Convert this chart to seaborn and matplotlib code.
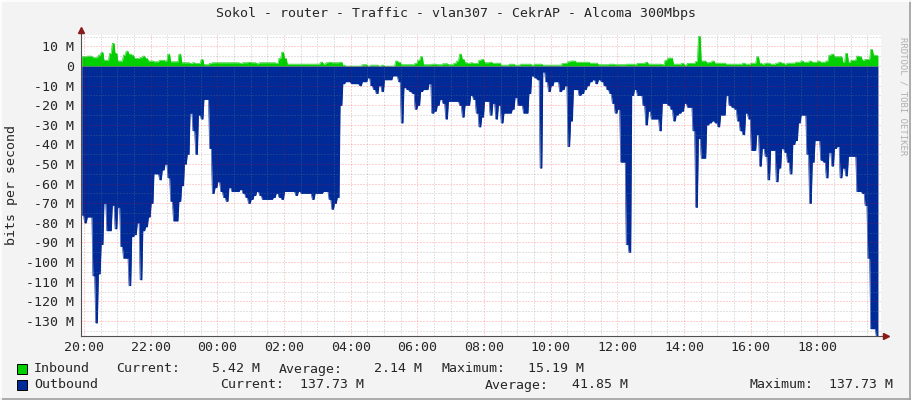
import matplotlib
matplotlib.use("Agg")
import matplotlib.pyplot as plt
import matplotlib.ticker as mticker
from matplotlib.patches import Rectangle
from matplotlib.lines import Line2D
import numpy as np
import pandas as pd
import seaborn as sns

sns.set_style("white")
plt.rcParams["font.family"] = ["DejaVu Sans Mono", "DejaVu Sans"]
plt.rcParams["font.size"] = 9.5

W, H = 911, 400

title = "Sokol - router - Traffic - vlan307 - CekrAP - Alcoma 300Mbps"
first_sample = -1 / 12   # hours after 20:00 -> 19:55
step = 1 / 12            # 5 minute rrd steps

# Mbit/s, one value per 5 minutes, rows start at 19:55, 20:55, ...
inbound = [
    4.8, 4.8, 5.1, 5.1, 4.3, 4.3, 5.6, 7.0, 3.0, 3.0, 6.5, 11.6,
    6.5, 2.6, 2.6, 5.6, 7.6, 6.1, 5.6, 3.9, 3.9, 4.3, 5.1, 3.9,
    2.6, 2.6, 2.2, 2.2, 3.0, 3.0, 2.6, 6.1, 2.2, 2.2, 2.2, 6.1,
    1.7, 1.7, 1.7, 1.4, 1.7, 1.4, 1.4, 3.4, 0.7, 0.7, 1.4, 1.7,
    1.7, 1.7, 1.7, 1.7, 1.7, 1.7, 1.7, 1.7, 1.7, 1.4, 1.7, 1.7,
    2.0, 1.7, 1.7, 1.2, 1.7, 1.7, 1.7, 1.7, 1.7, 1.7, 1.4, 3.9,
    7.1, 3.9, 1.0, 1.0, 1.0, 1.0, 1.0, 1.0, 1.0, 1.0, 1.0, 1.0,
    1.0, 1.0, 2.0, 1.0, 1.7, 2.0, 1.7, 1.7, 1.7, 2.0, 0.5, 0.0,
    0.0, 0.0, 0.0, 0.0, 0.0, 0.7, 0.7, 0.0, 0.5, 0.5, 0.5, 0.0,
    0.5, 0.0, 0.0, 0.0, 0.0, 2.6, 2.0, 0.7, 0.7, 0.7, 0.7, 0.7,
    1.4, 3.0, 4.8, 0.7, 0.7, 0.7, 1.0, 1.0, 0.7, 0.7, 1.2, 1.2,
    0.7, 0.7, 1.4, 2.6, 6.1, 3.4, 1.7, 1.4, 1.7, 1.4, 1.4, 3.0,
    3.4, 1.7, 1.7, 2.0, 1.4, 1.5, 1.5, 0.5, 0.5, 0.5, 1.0, 1.0,
    0.5, 0.5, 1.0, 1.0, 1.0, 1.0, 0.5, 1.0, 1.0, 1.0, 0.5, 0.5,
    0.5, 0.5, 0.5, 0.5, 0.5, 1.4, 1.4, 2.2, 2.6, 2.6, 2.0, 2.0,
    2.0, 2.0, 2.0, 1.5, 1.5, 1.5, 0.7, 0.7, 0.7, 0.7, 1.0, 1.0,
    0.7, 0.7, 0.7, 0.7, 1.0, 1.0, 1.0, 0.7, 1.4, 1.4, 1.4, 2.0,
    1.0, 1.0, 1.0, 1.0, 1.0, 0.7, 3.0, 4.1, 4.1, 1.0, 1.0, 1.0,
    1.4, 0.5, 1.4, 1.4, 1.4, 2.4, 15.19, 2.6, 2.6, 1.7, 2.0, 2.6,
    1.5, 1.5, 1.5, 1.5, 1.0, 1.0, 1.0, 1.0, 1.0, 1.0, 1.5, 1.0,
    1.0, 1.5, 1.5, 4.8, 1.5, 1.0, 1.5, 1.5, 1.0, 1.0, 1.5, 2.0,
    1.5, 1.0, 1.5, 1.5, 1.5, 2.0, 2.0, 2.6, 2.0, 2.0, 2.6, 2.0,
    2.0, 2.6, 2.0, 2.0, 2.6, 5.6, 6.1, 4.8, 4.8, 4.8, 2.0, 6.5,
    2.0, 3.0, 3.0, 5.1, 4.8, 3.0, 3.4, 3.4, 8.5, 5.6, 5.42,
]

outbound = [
    76, 80, 77, 77, 107, 131, 106, 91, 70, 84, 84, 71,
    83, 72, 92, 98, 98, 112, 87, 86, 80, 109, 84, 82,
    77, 70, 55, 55, 58, 53, 50, 57, 69, 79, 79, 69,
    61, 50, 45, 24, 33, 45, 25, 27, 17, 17, 42, 65,
    62, 59, 64, 67, 69, 62, 64, 64, 64, 63, 65, 67,
    70, 68, 66, 64, 66, 68, 68, 68, 68, 67, 65, 67,
    68, 64, 64, 64, 64, 66, 64, 65, 65, 65, 65, 68,
    65, 65, 65, 64, 64, 68, 73, 70, 67, 20, 9, 8,
    8, 9, 9, 9, 10, 8, 8, 6, 10, 12, 14, 10,
    13, 7, 7, 7, 5, 5, 8, 29, 11, 12, 13, 14,
    22, 20, 13, 12, 12, 9, 24, 23, 20, 17, 19, 27,
    18, 18, 18, 18, 20, 26, 20, 20, 15, 17, 24, 31,
    26, 18, 18, 25, 19, 27, 20, 29, 24, 24, 24, 22,
    16, 20, 20, 24, 24, 14, 5, 6, 7, 52, 3, 8,
    13, 10, 8, 8, 13, 12, 10, 41, 28, 12, 12, 15,
    14, 12, 10, 8, 7, 9, 7, 8, 10, 12, 14, 19,
    24, 22, 49, 49, 91, 95, 15, 12, 15, 15, 20, 30,
    23, 27, 27, 27, 33, 19, 19, 20, 22, 28, 25, 24,
    23, 19, 21, 21, 33, 72, 37, 47, 47, 30, 29, 28,
    29, 31, 25, 25, 15, 20, 21, 22, 28, 33, 35, 24,
    27, 43, 43, 35, 51, 42, 46, 58, 43, 43, 59, 52,
    42, 44, 49, 55, 40, 38, 29, 25, 25, 45, 70, 49,
    38, 38, 48, 49, 57, 44, 51, 42, 41, 57, 52, 56,
    46, 46, 46, 64, 64, 65, 71, 98, 134, 134, 137.73,
]

hour_ticks = [0, 2, 4, 6, 8, 10, 12, 14, 16, 18, 20, 22]
hour_labels = ["20:00", "22:00", "00:00", "02:00", "04:00", "06:00",
               "08:00", "10:00", "12:00", "14:00", "16:00", "18:00"]
y_ticks = [10, 0, -10, -20, -30, -40, -50, -60, -70, -80, -90, -100, -110, -120, -130]
y_labels = ["10 M", "0", "-10 M", "-20 M", "-30 M", "-40 M", "-50 M", "-60 M",
            "-70 M", "-80 M", "-90 M", "-100 M", "-110 M", "-120 M", "-130 M"]

series_names = ["Inbound", "Outbound"]
stat_names = ["Current:", "Average:", "Maximum:"]
inbound_stats = [5.42, 2.14, 15.19]
outbound_stats = [137.73, 41.85, 137.73]

green = "#00cf00"
blue = "#002a97"

# each 5 min sample is drawn flat over its slot, with ~1px slanted joins like rrdtool
n = len(outbound)
slot_start = first_sample + step * np.arange(n)
edge = 0.5 / 33.33
df = pd.DataFrame({
    "t": np.column_stack([slot_start + edge, slot_start + step - edge]).ravel(),
    "inbound": np.repeat(inbound, 2),
    "outbound": -np.repeat(outbound, 2),
})


def fx(px):
    return px / W


def fy(py):
    return 1 - py / H


fig = plt.figure(figsize=(W / 100, H / 100), dpi=100, facecolor="#f3f3f3")
ax = fig.add_axes([fx(81), fy(336), 800 / W, (336 - 34.5) / H])
ax.set_facecolor("white")

ax.fill_between(df["t"], 0, df["inbound"], color=green, lw=0, zorder=1)
ax.fill_between(df["t"], 0, df["outbound"], color=blue, lw=0, zorder=1)
sns.lineplot(data=df, x="t", y="inbound", color=green, lw=0.4, ax=ax)
sns.lineplot(data=df, x="t", y="outbound", color=blue, lw=0.4, ax=ax)

ax.set_xlim(-0.09, 23.91)
ax.set_ylim(-137.7, 16.1)
ax.set_xlabel("")
ax.set_ylabel("")

ax.xaxis.set_major_locator(mticker.FixedLocator(hour_ticks))
ax.xaxis.set_minor_locator(mticker.MultipleLocator(0.5))
ax.set_xticklabels(hour_labels)
ax.yaxis.set_major_locator(mticker.FixedLocator(y_ticks))
ax.yaxis.set_minor_locator(mticker.MultipleLocator(5))
ax.set_yticklabels(y_labels)

ax.set_axisbelow(False)
ax.grid(True, which="major", color="#ff0000", alpha=0.35, ls=(0, (1, 2)), lw=0.72)
ax.grid(True, which="minor", color="#808080", alpha=0.45, ls=(0, (1, 2)), lw=0.72)

ax.tick_params(axis="y", which="major", length=2.2, width=0.7, color="#505050", pad=3.0, labelsize=9.5)
ax.tick_params(axis="y", which="minor", length=1.4, width=0.7, color="#505050")
ax.tick_params(axis="x", which="major", length=2.2, width=0.7, color="#505050", pad=1.5, labelsize=9.5)
ax.tick_params(axis="x", which="minor", length=1.4, width=0.7, color="#505050")

for side in ["top", "right"]:
    ax.spines[side].set_visible(False)
for side in ["left", "bottom"]:
    ax.spines[side].set_color("#505050")
    ax.spines[side].set_linewidth(0.8)

# axis arrows
ax.plot([0, 0], [1, 1.012], transform=ax.transAxes, color="#505050", lw=0.8, clip_on=False)
ax.plot([0], [1.014], marker="^", ms=4, color="#8b1a1a", transform=ax.transAxes, clip_on=False)
ax.plot([1, 1.004], [0, 0], transform=ax.transAxes, color="#505050", lw=0.8, clip_on=False)
ax.plot([1.006], [0], marker=">", ms=4, color="#8b1a1a", transform=ax.transAxes, clip_on=False)

fig.text(0.5, fy(14), title, ha="center", va="center", fontsize=9.5)
fig.text(fx(12), fy(185), "bits per second", rotation=90, ha="center", va="center", fontsize=9.5)
fig.text(fx(903), fy(37), "RRDTOOL / TOBI OETIKER", rotation=270, ha="center", va="top",
         fontsize=6.5, color="#b0b0b0")

# legend
rows = [
    (369, green, inbound_stats, [(116, 260), (279, 422), (441, 584)]),
    (385, blue, outbound_stats, [(220, 364), (485, 628), (750, 893)]),
]
for name, (ypx, col, stats, spots) in zip(series_names, rows):
    fig.patches.append(Rectangle((fx(17), fy(ypx + 5)), 10 / W, 10 / H, transform=fig.transFigure,
                                 facecolor=col, edgecolor="black", lw=0.7))
    fig.text(fx(34), fy(ypx), name, ha="left", va="center", fontsize=9.5)
    for label, value, (lx, rx) in zip(stat_names, stats, spots):
        fig.text(fx(lx), fy(ypx), label, ha="left", va="center", fontsize=9.5)
        fig.text(fx(rx), fy(ypx), f"{value:.2f} M", ha="right", va="center", fontsize=9.5)

# rrdtool style shaded frame
fig.add_artist(Line2D([0, 1], [fy(399.3)] * 2, transform=fig.transFigure, color="#9e9e9e", lw=1.2))
fig.add_artist(Line2D([fx(910.3)] * 2, [0, 1], transform=fig.transFigure, color="#9e9e9e", lw=1.2))
fig.add_artist(Line2D([0, 1], [fy(0.7)] * 2, transform=fig.transFigure, color="#ffffff", lw=1.2))
fig.add_artist(Line2D([fx(0.7)] * 2, [0, 1], transform=fig.transFigure, color="#ffffff", lw=1.2))

fig.savefig("out.png", dpi=100, facecolor=fig.get_facecolor())
plt.close(fig)
